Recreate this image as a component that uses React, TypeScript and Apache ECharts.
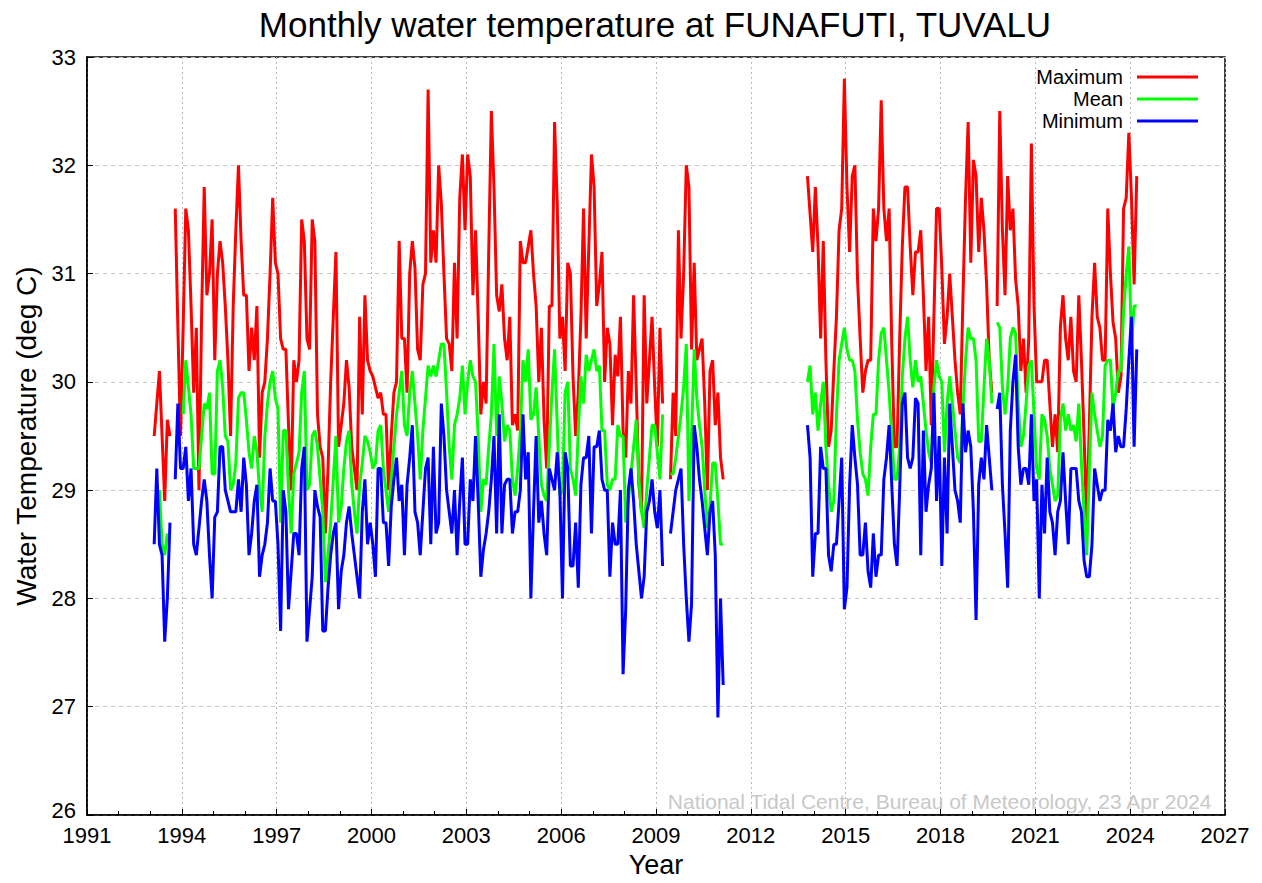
import React, { useEffect, useRef } from "react";
import * as echarts from "echarts";

const FONT = "'Liberation Sans', Arial, Helvetica, sans-serif";
const TITLE = "Monthly water temperature at FUNAFUTI, TUVALU";
const SERIES_NAMES = ["Maximum", "Mean", "Minimum"];
const SERIES_COLORS = ["#ff0000", "#00ff00", "#0000ff"];
const START_YEAR = 1993; // first value = Jan 1993, one value per month
const X_TICKS = { min: 1991, max: 2027, step: 3 };
const Y_TICKS = { min: 26, max: 33, step: 1 };
const CREDIT = "National Tidal Centre, Bureau of Meteorology, 23 Apr 2024";

const gap = (n: number) => Array(n).fill(null);

// Monthly maximum water temperature (deg C)
const maxVals: (number | null)[] = [
  null, 29.5, 29.8, 30.1, 29.5, 28.9, 29.65, 29.5, null,
  31.6, 30.5, 29.5, 30.5, 31.6, 31.4, 30.7, 29.9, 30.5, 29.0, 30.6, 31.8, 30.8, 31.0, 31.5, 30.2, 31.0, 31.3, 31.1, 30.7, 30.2, 29.5, 30.7, 31.4, 32.0, 31.3, 30.8, 30.8, 30.1, 30.5, 30.2, 30.7, 29.3, 29.9,
  30.0, 30.4, 31.0, 31.7, 31.1, 31.0, 30.4, 30.3, 30.3, 29.6, 29.0, 30.2, 30.0, 30.2, 31.5, 31.3, 30.4, 30.3, 31.5, 31.3, 29.7, 29.4, 29.3, 28.6, 29.2, 30.0, 30.6, 31.2, 29.4, 29.6, 29.8, 30.2, 29.95, 29.4, 29.2, 29.0, 30.6, 29.7, 30.8, 30.2, 30.1, 30.05, 29.95, 29.85,
  29.9, 29.7, 29.7, 29.0, 29.5, 29.9, 30.0, 31.3, 30.4, 30.4, 29.9, 31.0, 31.3, 31.05, 30.3, 30.2, 30.9, 31.0, 32.7, 31.1, 31.4, 31.1, 32.0, 31.65, 31.0, 30.4, 30.35, 30.1, 31.1, 30.4, 31.7, 32.1, 31.4, 32.1, 31.9, 30.8, 31.4, 30.6, 29.7, 30.0, 29.8, 31.2, 32.5,
  31.8, 30.8, 30.65, 30.9, 30.4, 30.2, 30.6, 29.6, 29.7, 29.55, 31.3, 31.1, 31.1, 31.25, 31.4, 31.0, 30.7, 30.0, 30.5, 29.65, 29.2, 30.7, 30.7, 32.4, 31.65, 30.4, 30.6, 30.1, 31.1, 31.0, 30.05, 29.5, 29.9, 30.6, 31.6, 30.4, 31.25, 32.1, 31.8, 30.7, 30.9, 31.2, 30.0, 30.5, 30.35,
  29.6, 30.25, 30.05, 30.6, 29.55, 29.3, 30.1, 29.8, 30.8, 29.95, 29.05, 28.8, 30.8, 29.8, 30.2, 30.6, 29.95, 29.4, 30.5, 29.8,
  null, null,
  29.1, 29.9, 29.5, 31.4, 30.4, 31.0, 32.0, 31.8, 30.3, 31.1, 30.2, 30.3, 30.4, 29.8, 29.0, 30.1, 30.2, 29.6, 29.9, 29.3, 29.1,
  ...gap(31),
  31.9, 31.55, 31.2, 31.8, 31.25, 30.4, 31.3, 30.2, 29.4, 29.55, 30.1, 30.6, 31.4, 31.6, 32.8, 31.8, 31.2, 31.9, 32.0, 30.95, 30.4, 29.9, 30.1, 30.2, 30.2, 31.6, 31.3, 31.6, 32.6, 31.6, 31.3, 31.6, 30.35, 29.4, 29.4, 30.4, 31.25, 31.8, 31.8, 31.25, 30.8, 31.2,
  31.2, 31.4, 30.8, 30.1, 30.6, 29.6, 30.6, 31.6, 31.6, 31.05, 30.35, 30.6, 31.0, 30.6, 30.2, 29.9, 29.7, 30.75, 31.7, 32.4, 31.1, 32.05, 31.9, 31.2, 31.7, 31.4, 30.9, 30.2, 29.9,
  null,
  30.7, 32.5, 31.4, 30.8, 31.9, 31.4, 31.6, 30.95, 30.7, 30.1, 30.4, 29.9, 30.4, 32.2,
  30.7, 30.0, 30.0, 30.0, 30.2, 30.2, 29.8, 29.4, 29.7, 29.35, 30.5, 30.8, 30.4, 30.2, 30.6, 30.1, 30.0, 30.8, 30.2, 29.5, 28.7, 29.6, 30.6, 31.1, 30.6, 30.5, 30.2, 30.2, 31.6, 31.0, 30.55, 30.4, 29.9, 30.05, 31.6, 31.7, 32.3, 31.7, 30.9, 31.9,
];

// Monthly mean water temperature (deg C)
const meanVals: (number | null)[] = [
  null, null, null, 29.0, 28.5, 28.4, 28.6, null, null, null, null, null,
  29.7, 30.2, 29.95, 29.7, 29.2, 29.2, 29.2, 29.5, 29.8, 29.75, 29.9, 29.15, 29.15, 30.1, 30.2, 29.95, 29.5, 29.45, 29.0, 29.05, 29.25, 29.85, 29.9, 29.9, 29.65, 29.35, 29.2, 29.5, 29.35, 29.0, 28.8,
  29.5, 29.8, 30.0, 30.1, 29.85, 29.75, 28.7, 29.55, 29.55, 29.0, 28.6, 29.15, 29.25, 29.35, 29.9, 30.1, 29.0, 29.05, 29.5, 29.55, 29.4, 29.1, 28.8, 28.15, 28.4, 28.7, 29.1, 29.5, 28.7, 28.85, 29.2, 29.45, 29.55, 29.05, 28.8, 28.6, 29.05, 29.25, 29.5, 29.45, 29.35, 29.2, 29.25, 29.55,
  29.6, 29.2, 29.0, 28.8, 29.1, 29.4, 29.7, 29.9, 30.1, 29.6, 29.5, 29.9, 30.1, 29.8, 29.5, 29.1, 29.55, 29.85, 30.15, 30.05, 30.15, 30.05, 30.2, 30.35, 30.35, 29.9, 29.4, 29.1, 29.6, 29.7, 29.85, 30.15, 29.7, 30.0, 30.2, 30.05, 30.0, 29.5, 28.8, 29.1, 29.05, 29.4, 29.7, 30.35,
  29.5, 30.05, 29.8, 29.45, 29.6, 29.55, 29.1, 28.95, 29.2, 29.55, 30.2, 30.0, 30.3, 29.65, 29.7, 29.95, 29.5, 29.05, 28.95, 28.9, 29.4, 29.9, 30.3, 29.6, 28.95, 29.0, 29.9, 30.0, 29.2, 29.1, 28.95, 29.55, 30.05, 29.8, 30.25, 30.1, 30.2, 30.3, 30.1, 30.15, 29.55, 29.55, 29.05, 29.0,
  29.1, 29.1, 29.6, 29.5, 29.5, 28.7, 28.9, 29.15, 29.4, 29.65, 29.1, 28.8, 28.65, 29.0, 29.3, 29.6, 29.6, 29.35, 29.1, 29.7,
  null, null,
  29.15, 29.15, 29.3, 29.5, 29.7, 29.95, 30.35, 28.9, 29.5, 30.3, 29.85, 29.6, 29.4, 29.0, 28.65, 28.85, 29.25, 29.25, 28.9, 28.5, 28.5,
  ...gap(31),
  30.0, 30.15, 29.7, 29.9, 29.55, 29.8, 30.0, 29.4, 29.05, 28.8, 28.9, 29.7, 30.2, 30.35, 30.5, 30.3, 30.2, 30.2, 30.1, 29.65, 29.35, 29.15, 29.1, 28.95, 29.4, 29.7, 29.7, 30.2, 30.45, 30.5, 30.2, 29.9, 29.5, 29.1, 29.1, 29.4, 30.05, 30.4, 30.6, 30.2, 29.95, 30.2,
  30.0, 30.05, 29.8, 29.55, 29.35, 29.25, 29.95, 30.2, 30.05, 30.0, 29.35, 29.8, 30.05, 29.8, 29.55, 29.3, 29.25, 29.75, 30.2, 30.5, 30.4, 30.4, 30.2, 29.45, 29.45, 29.95, 30.4, 30.2, 29.8,
  null,
  30.55, 30.5, 29.95, 29.7, 29.95, 30.4, 30.5, 30.45, 29.8, 29.4, 29.5, 29.8, 30.15, 30.2,
  29.7, 29.2, 29.1, 29.7, 29.65, 29.5, 29.2, 29.05, 28.9, 28.95, 29.65, 29.8, 29.55, 29.7, 29.55, 29.6, 29.45, 29.8, 29.25, 28.8, 28.4, 29.2, 29.9, 29.7, 29.55, 29.4, 29.5, 30.15, 30.2, 30.2, 29.75, 29.9, 30.1, 30.1, 30.65, 31.0, 31.25, 30.35, 30.7, 30.7,
];

// Monthly minimum water temperature (deg C)
const minVals: (number | null)[] = [
  null, 28.5, 29.2, 28.5, 28.4, 27.6, 28.0, 28.7, null,
  29.1, 29.8, 29.2, 29.2, 29.4, 28.9, 29.2, 28.5, 28.4, 28.65, 28.9, 29.1, 28.9, 28.4, 28.0, 28.75, 28.8, 29.4, 29.4, 29.0, 28.9, 28.8, 28.8, 28.8, 29.1, 28.8, 29.3, 29.05, 28.4, 28.6, 28.9, 29.05, 28.2, 28.4,
  28.5, 28.7, 29.2, 28.9, 28.9, 28.5, 27.7, 29.0, 28.8, 27.9, 28.25, 28.6, 28.6, 28.4, 29.2, 29.4, 27.6, 27.9, 28.2, 29.0, 28.85, 28.75, 27.7, 27.7, 28.1, 28.4, 28.6, 28.7, 27.9, 28.25, 28.4, 28.7, 28.85, 28.6, 28.4, 28.2, 28.0, 28.8, 29.1, 28.5, 28.7, 28.5, 28.2, 29.2,
  29.2, 28.7, 28.7, 28.3, 28.85, 29.1, 29.3, 28.9, 29.05, 28.4, 29.05, 29.3, 29.6, 28.8, 28.7, 28.4, 28.8, 29.2, 29.3, 28.5, 29.4, 28.6, 28.7, 29.8, 29.5, 29.0, 28.8, 28.6, 29.0, 28.4, 28.9, 29.3, 28.5, 28.5, 29.1, 28.9, 29.5, 28.9, 28.2, 28.45, 28.6, 28.8, 29.1, 29.5,
  28.6, 29.7, 28.6, 29.05, 29.1, 29.1, 28.6, 28.8, 28.8, 29.0, 29.7, 29.1, 29.35, 28.0, 28.8, 29.5, 28.7, 28.9, 28.6, 28.4, 29.2, 29.1, 29.0, 29.35, 29.0, 28.0, 29.35, 29.2, 28.3, 28.3, 28.7, 28.1, 29.05, 29.3, 29.3, 29.5, 28.6, 29.4, 29.4, 29.55, 29.1, 29.0, 29.0, 28.2,
  28.7, 28.5, 28.5, 29.0, 27.3, 27.9, 29.0, 29.2, 28.9, 28.5, 28.25, 28.0, 28.2, 28.8, 28.9, 29.1, 28.8, 28.65, 29.0, 28.3,
  null, null,
  28.6, 28.8, 29.0, 29.1, 29.2, 28.5, 28.0, 27.6, 27.95, 29.6, 29.4, 29.1, 28.9, 28.65, 28.4, 28.8, 28.9, 28.4, 26.9, 28.0, 27.2,
  ...gap(31),
  29.6, 29.3, 28.2, 28.6, 28.6, 29.4, 29.2, 29.2, 28.4, 28.25, 28.5, 28.5, 28.9, 29.3, 27.9, 28.1, 29.05, 29.6, 29.3, 29.05, 28.4, 28.4, 28.7, 28.25, 28.1, 28.6, 28.2, 28.4, 28.4, 29.1, 29.3, 29.6, 29.05, 28.5, 28.3, 29.0, 29.8, 29.9, 29.3, 29.2, 29.3, 29.85,
  29.8, 28.4, 29.55, 28.8, 29.05, 29.2, 29.9, 28.9, 29.5, 28.3, 29.3, 28.6, 29.8, 29.4, 29.0, 28.9, 28.7, 29.8, 29.35, 29.55, 29.4, 28.8, 27.8, 29.05, 29.3, 29.1, 29.6, 29.3, 29.0,
  null,
  29.75, 29.9, 29.05, 28.6, 28.1, 29.55, 30.0, 30.25, 29.4, 29.05, 29.2, 29.2, 29.05, 29.7,
  28.9, 29.1, 28.0, 29.05, 28.6, 29.3, 28.8, 28.7, 28.4, 28.8, 28.9, 29.35, 28.9, 28.5, 29.2, 29.2, 29.2, 28.9, 28.8, 28.35, 28.2, 28.2, 28.5, 29.2, 29.05, 28.9, 29.0, 29.0, 29.65, 29.55, 29.8, 29.35, 29.5, 29.4, 29.4, 29.75, 30.2, 30.6, 29.4, 30.3,
];

const toPairs = (vals: (number | null)[]) =>
  vals.map((v, i) => [START_YEAR + (i + 0.5) / 12, v == null ? "-" : v]);

export default function App() {
  const ref = useRef<HTMLDivElement>(null);
  useEffect(() => {
    if (!ref.current) return;
    const chart = echarts.init(ref.current, null, { renderer: "svg" });
    const valueSets = [maxVals, meanVals, minVals];
    chart.setOption({
      animation: false,
      backgroundColor: "#ffffff",
      textStyle: { fontFamily: FONT, color: "#000" },
      title: {
        text: TITLE,
        left: 650,
        top: 2,
        textAlign: "center",
        textStyle: { fontSize: 35, fontWeight: "normal", color: "#000", fontFamily: FONT },
      },
      legend: {
        data: SERIES_NAMES,
        orient: "vertical",
        right: 59,
        top: 62,
        align: "right",
        icon: "rect",
        itemWidth: 61,
        itemHeight: 3,
        itemGap: 2,
        textStyle: { fontSize: 20, color: "#000", fontFamily: FONT, lineHeight: 20, padding: [0, 9, 0, 0] },
      },
      grid: {
        left: 87,
        right: 37,
        top: 57,
        bottom: 65,
        show: true,
        borderColor: "#000",
        borderWidth: 1.5,
        backgroundColor: "transparent",
      },
      xAxis: {
        type: "value",
        min: X_TICKS.min,
        max: X_TICKS.max,
        interval: X_TICKS.step,
        name: "Year",
        nameLocation: "middle",
        nameGap: 36,
        nameTextStyle: { fontSize: 27, color: "#000", fontFamily: FONT },
        axisLine: { show: true, onZero: false, lineStyle: { color: "#000", width: 1.5 } },
        axisTick: { show: true, inside: true, length: 6, lineStyle: { color: "#000" } },
        minorTick: { show: true, splitNumber: 3, length: 4, lineStyle: { color: "#000" } },
        axisLabel: { fontSize: 22, color: "#000", margin: 10, lineHeight: 20, fontFamily: FONT, formatter: (v: number) => String(v) },
        splitLine: { show: true, lineStyle: { color: "#b8b8b8", type: [2, 3], width: 1 } },
      },
      yAxis: {
        type: "value",
        min: Y_TICKS.min,
        max: Y_TICKS.max,
        interval: Y_TICKS.step,
        name: "Water Temperature (deg C)",
        nameLocation: "middle",
        nameGap: 42,
        nameTextStyle: { fontSize: 28, color: "#000", fontFamily: FONT },
        axisLine: { show: true, lineStyle: { color: "#000", width: 1.5 } },
        axisTick: { show: true, inside: true, length: 6, lineStyle: { color: "#000" } },
        axisLabel: {
          fontSize: 22,
          color: "#000",
          margin: 11,
          lineHeight: 17,
          fontFamily: FONT,
          formatter: (v: number) => (v === Y_TICKS.min ? `{lo|${v}}` : String(v)),
          rich: { lo: { fontSize: 22, lineHeight: 17, color: "#000", fontFamily: FONT, padding: [0, 0, 9, 0] } },
        },
        splitLine: { show: true, lineStyle: { color: "#c4c4c4", type: [4, 4], width: 1 } },
      },
      graphic: [
        {
          type: "text",
          right: 49,
          top: 791,
          style: { text: CREDIT, fill: "#c8c8c8", fontSize: 21, fontFamily: FONT },
        },
      ],
      series: SERIES_NAMES.map((name, k) => ({
        name,
        type: "line",
        data: toPairs(valueSets[k]),
        showSymbol: false,
        symbol: "none",
        connectNulls: false,
        lineStyle: { color: SERIES_COLORS[k], width: 3 },
        itemStyle: { color: SERIES_COLORS[k] },
      })),
    });
    return () => chart.dispose();
  }, []);
  return (
    <div
      ref={ref}
      style={{ position: "fixed", left: 0, top: 0, width: 1262, height: 883, background: "#fff" }}
    />
  );
}
